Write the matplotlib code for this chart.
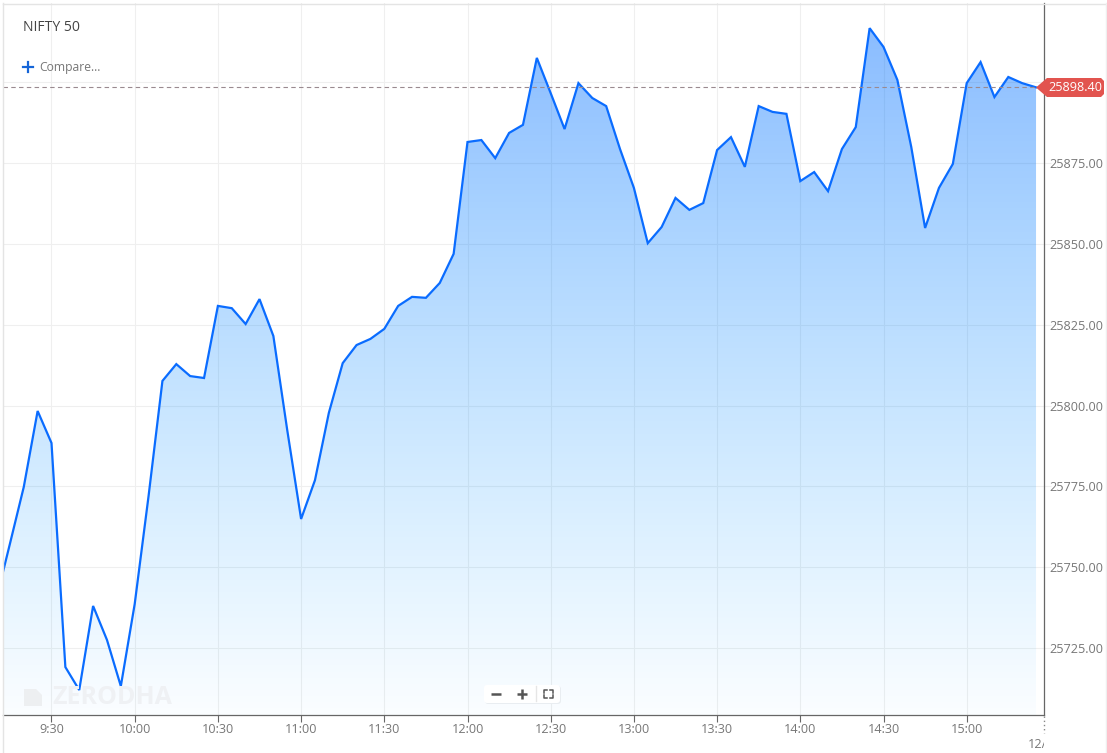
import numpy as np
import matplotlib
matplotlib.use("Agg")
import matplotlib.pyplot as plt
from matplotlib.patches import Polygon, FancyBboxPatch
from matplotlib.transforms import Bbox

plt.rcParams['font.family'] = ['Open Sans', 'DejaVu Sans']

title = "NIFTY 50"
compare_label = "Compare..."
watermark = "ZERODHA"
last_price = 25898.40
price_ticks = [25725, 25750, 25775, 25800, 25825, 25850, 25875, 25900]
time_ticks = [570, 600, 630, 660, 690, 720, 750, 780, 810, 840, 870, 900]
time_labels = ["9:30", "10:00", "10:30", "11:00", "11:30", "12:00",
               "12:30", "13:00", "13:30", "14:00", "14:30", "15:00"]
start_minute = 550   # 9:10, just off the left edge of the view
step_minutes = 5
closes = [
    25739.8, 25757.2, 25774.8, 25798.3, 25788.4, 25719.1, 25712.0, 25738.0,
    25727.5, 25713.2, 25738.6, 25772.0, 25807.6, 25812.8, 25809.1, 25808.5,
    25830.8, 25830.1, 25825.2, 25832.9, 25821.5, 25792.4, 25764.9, 25776.9,
    25797.7, 25813.1, 25818.7, 25820.6, 25823.7, 25830.8, 25833.6, 25833.3,
    25837.9, 25846.9, 25881.5, 25882.1, 25876.5, 25884.3, 25886.8, 25907.5,
    25896.6, 25885.5, 25899.7, 25895.1, 25892.6, 25879.3, 25867.3, 25850.2,
    25855.2, 25864.2, 25860.5, 25862.6, 25879.0, 25883.0, 25873.8, 25892.6,
    25890.8, 25890.2, 25869.4, 25872.2, 25866.3, 25879.3, 25886.1, 25916.7,
    25910.9, 25900.7, 25880.0, 25854.9, 25867.3, 25874.7, 25899.7, 25906.2,
    25895.4, 25901.6, 25899.7, 25898.4,
]

W, H = 1107, 753
L, R, T, B = 3, 1044, 3, 715
minutes = start_minute + step_minutes * np.arange(len(closes))
closes = np.array(closes)

px_per_min = 83.2 / 30
ppu = 485 / 150
xlim = (570 + (L - 51.5) / px_per_min, 570 + (R - 51.5) / px_per_min)
ylim = (25875 - (B - 163) / ppu, 25875 + (163 - T) / ppu)

fig = plt.figure(figsize=(W / 100, H / 100), dpi=100, facecolor="white")
ax = fig.add_axes([L / W, 1 - B / H, (R - L) / W, (B - T) / H])
ax.set_xlim(*xlim)
ax.set_ylim(*ylim)
ax.set_facecolor("white")

# grid
ax.set_xticks(time_ticks, time_labels)
ax.set_yticks(price_ticks, [f"{v:.2f}" for v in price_ticks])
ax.grid(True, color="#EFEFEF", lw=0.75)
ax.set_axisbelow(True)
ax.yaxis.tick_right()
ax.tick_params(axis="x", length=5, width=0.8, color="#666666", labelcolor="#777777",
               labelsize=9.1, pad=1)
ax.tick_params(axis="y", length=5, width=0.75, color="#EFEFEF", labelcolor="#777777",
               labelsize=9.1, pad=-1)
for s in ("top", "left"):
    ax.spines[s].set_visible(False)
for s in ("right", "bottom"):
    ax.spines[s].set_color("#666666")
    ax.spines[s].set_linewidth(0.9)

# gradient fill beneath the line
top_v = closes.max()
grad = np.zeros((256, 2, 4))
frac = np.linspace(0, 1, 256)[:, None]  # 0 at top
grad[:, :, 0] = 0.0
grad[:, :, 1] = (110 + (160 - 110) * frac) / 255
grad[:, :, 2] = 1.0
grad[:, :, 3] = 0.46 + (0.02 - 0.46) * frac
im = ax.imshow(grad, extent=(xlim[0], minutes[-1], ylim[0], top_v),
               origin="upper", aspect="auto", zorder=2, interpolation="bilinear")
poly_pts = np.column_stack([
    np.r_[minutes, minutes[-1], minutes[0]],
    np.r_[closes, ylim[0], ylim[0]],
])
clip = Polygon(poly_pts, closed=True, transform=ax.transData, fc="none", ec="none")
ax.add_patch(clip)
im.set_clip_path(clip)
ax.set_xlim(*xlim)
ax.set_ylim(*ylim)

# price line
ax.plot(minutes, closes, color="#0A6CFF", lw=1.6, zorder=4, solid_joinstyle="miter")

# last price dashed line
ax.axhline(last_price, color="#9A8A90", lw=0.8, dashes=(4, 3), zorder=5)

# overlay in pixel coordinates for chart furniture
ov = fig.add_axes([0, 0, 1, 1], facecolor="none")
ov.set_xlim(0, W)
ov.set_ylim(H, 0)
ov.axis("off")

ov.plot([2.5, 2.5], [3, 753], color="#E4E4E4", lw=1)
ov.plot([2.5, 1106], [3.5, 3.5], color="#E4E4E4", lw=1)
ov.plot([1106, 1106], [3, 753], color="#EFEFEF", lw=1)

ov.text(23, 27, title, fontsize=10.1, color="#444444", va="center", ha="left")
ov.plot([23, 33], [67, 67], color="#1565D8", lw=1.6)
ov.plot([28, 28], [62, 72], color="#1565D8", lw=1.6)
ov.text(39, 67, compare_label, fontsize=8.7, color="#777777", va="center", ha="left")

# watermark
ov.add_patch(Polygon([(24, 689), (36, 689), (42, 695), (42, 706), (24, 706)],
                     closed=True, fc="#EDEFF1", ec="none", zorder=3))
ov.text(52, 697.5, watermark, fontsize=18, fontweight="bold", color="#EFF1F4",
        va="center", ha="left", zorder=3)

# zoom control
ov.add_patch(FancyBboxPatch((485, 686), 76, 18, boxstyle="round,pad=0,rounding_size=3",
                            fc="#E9EDF1", ec="none", zorder=6))
ov.add_patch(FancyBboxPatch((484, 685), 76, 18, boxstyle="round,pad=0,rounding_size=3",
                            fc="#FFFFFF", ec="none", zorder=7))
ov.plot([491, 501], [694, 694], color="#555555", lw=1.8, zorder=8, solid_capstyle="butt")
ov.plot([517, 527], [694, 694], color="#555555", lw=1.8, zorder=8, solid_capstyle="butt")
ov.plot([522, 522], [689, 699], color="#555555", lw=1.8, zorder=8, solid_capstyle="butt")
ov.plot([535.5, 535.5], [686, 701], color="#E6E6E6", lw=1, zorder=8)
for sx, sy in [(544, 689.5), (553, 689.5), (544, 698), (553, 698)]:
    dx = 3 if sx < 548 else -3
    dy = 3 if sy < 693 else -3
    ov.plot([sx + dx, sx, sx], [sy, sy, sy + dy], color="#555555", lw=1.1, zorder=8)

# price flag
ov.add_patch(Polygon([(1036, 87.5), (1047, 78), (1101, 78), (1104, 81), (1104, 94),
                      (1101, 97), (1047, 97)],
                     closed=True, fc="#E2544F", ec="none", zorder=9))
ov.text(1102, 87.5, f"{last_price:.2f}", fontsize=9.1, color="white", va="center",
        ha="right", zorder=10)

# end of session tick and clipped date label
ov.plot([1043.5, 1043.5], [716, 733], color="#888888", lw=1, dashes=(1, 2))
date = ov.text(1027.5, 744, "12/11", fontsize=9.1, color="#777777", va="center", ha="left")
date.set_clip_box(Bbox([[0, 0], [1044, H]]))
date.set_clip_on(True)

fig.savefig("out.png", dpi=100)
